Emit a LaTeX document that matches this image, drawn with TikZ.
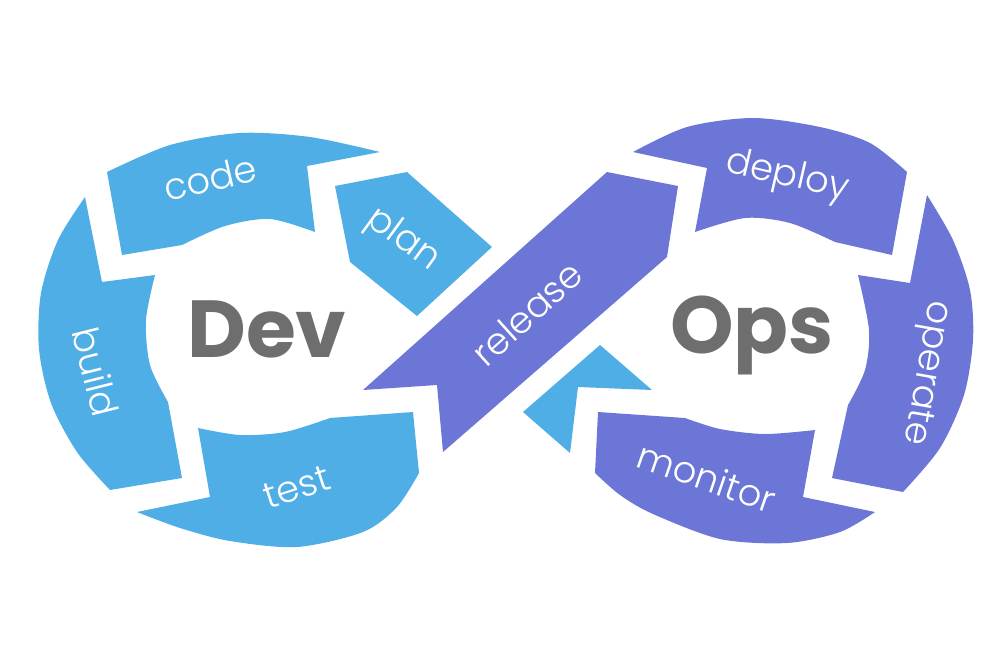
\documentclass[tikz,border=0pt]{standalone}
\usepackage{fontspec}
\setmainfont{Poppins}
\newfontfamily\lblfont{Poppins Light}
\definecolor{devblue}{HTML}{4FAEE6}
\definecolor{opsviolet}{HTML}{6C76D6}
\definecolor{wordgray}{HTML}{6E6E6E}

\begin{document}
\begin{tikzpicture}[x=0.01cm, y=-0.01cm,
	lbl/.style={text=white, font=\lblfont\fontsize{10.5}{12}\selectfont, inner sep=0pt},
	big/.style={text=wordgray, font=\fontsize{23}{24}\selectfont\bfseries, inner sep=0pt}]
	\useasboundingbox (0,0) rectangle (1000,666);
	% Dev ring
	\fill[devblue] plot[smooth] coordinates {(107,172) (170,145) (240,133) (310,137) (380,152)} -- (307,166) -- (315,232) -- plot[smooth] coordinates {(315,232) (270,219) (225,226) (182,245)} -- (122,255) -- cycle;
	\fill[devblue] plot[smooth] coordinates {(85,197) (58,240) (41,293) (39,349) (51,403) (77,452) (110,490)} -- (182,478) -- (168,402) -- plot[smooth] coordinates {(168,402) (150,365) (146,320) (155,275)} -- (102,282) -- cycle;
	\fill[devblue] (198,428) -- (210,497) -- (137,512) -- plot[smooth] coordinates {(137,512) (180,528) (230,541) (297,547) (363,532) (397,507) (419,473)} -- (413,412) -- (330,418) -- plot[smooth] coordinates {(330,418) (285,432) (240,435) (198,428)} -- cycle;
	\fill[devblue] (335,186) -- (407,172) -- (492,247) -- (417,316) -- (350,262) -- cycle;
	\fill[devblue] (523,412) -- (600,345) -- (652,390) -- (578,387) -- (570,453) -- cycle;
	% release band
	\fill[opsviolet] (363,390) -- (607,172) -- (678,186) -- (667,257) -- (443,452) -- (437,385) -- cycle;
	% Ops ring
	\fill[opsviolet] (707,168) -- plot[smooth] coordinates {(633,152) (687,127) (753,118) (820,127) (870,143) (907,172)} -- (892,255) -- (835,242) -- plot[smooth] coordinates {(835,242) (790,223) (745,218) (695,232)} -- cycle;
	\fill[opsviolet] plot[smooth] coordinates {(927,195) (953,240) (970,290) (973,340) (964,395) (940,448) (903,492)} -- (832,478) -- (848,405) -- plot[smooth] coordinates {(848,405) (865,370) (869,330) (858,275)} -- (910,283) -- cycle;
	\fill[opsviolet] (598,412) -- plot[smooth] coordinates {(595,473) (620,495) (653,514) (720,539) (787,543) (840,532) (875,512)} -- (803,497) -- (815,430) -- plot[smooth] coordinates {(815,430) (765,434) (720,429) (685,418)} -- cycle;

	\node[big, anchor=base] (dev) at (267,357) {Dev};
	\node[big, anchor=base] (ops) at (752,353) {Ops};
	\node[lbl, rotate=13] (code) at (210,178) {code};
	\node[lbl, rotate=-36] (plan) at (403,240) {plan};
	\node[lbl, rotate=-76] (build) at (96,372) {build};
	\node[lbl, rotate=18] (test) at (297,487) {test};
	\node[lbl, rotate=42] (release) at (527,313) {release};
	\node[lbl, rotate=-13] (deploy) at (787,177) {deploy};
	\node[lbl, rotate=-100] (operate) at (925,373) {operate};
	\node[lbl, rotate=-19] (monitor) at (707,477) {monitor};
\end{tikzpicture}
\end{document}
